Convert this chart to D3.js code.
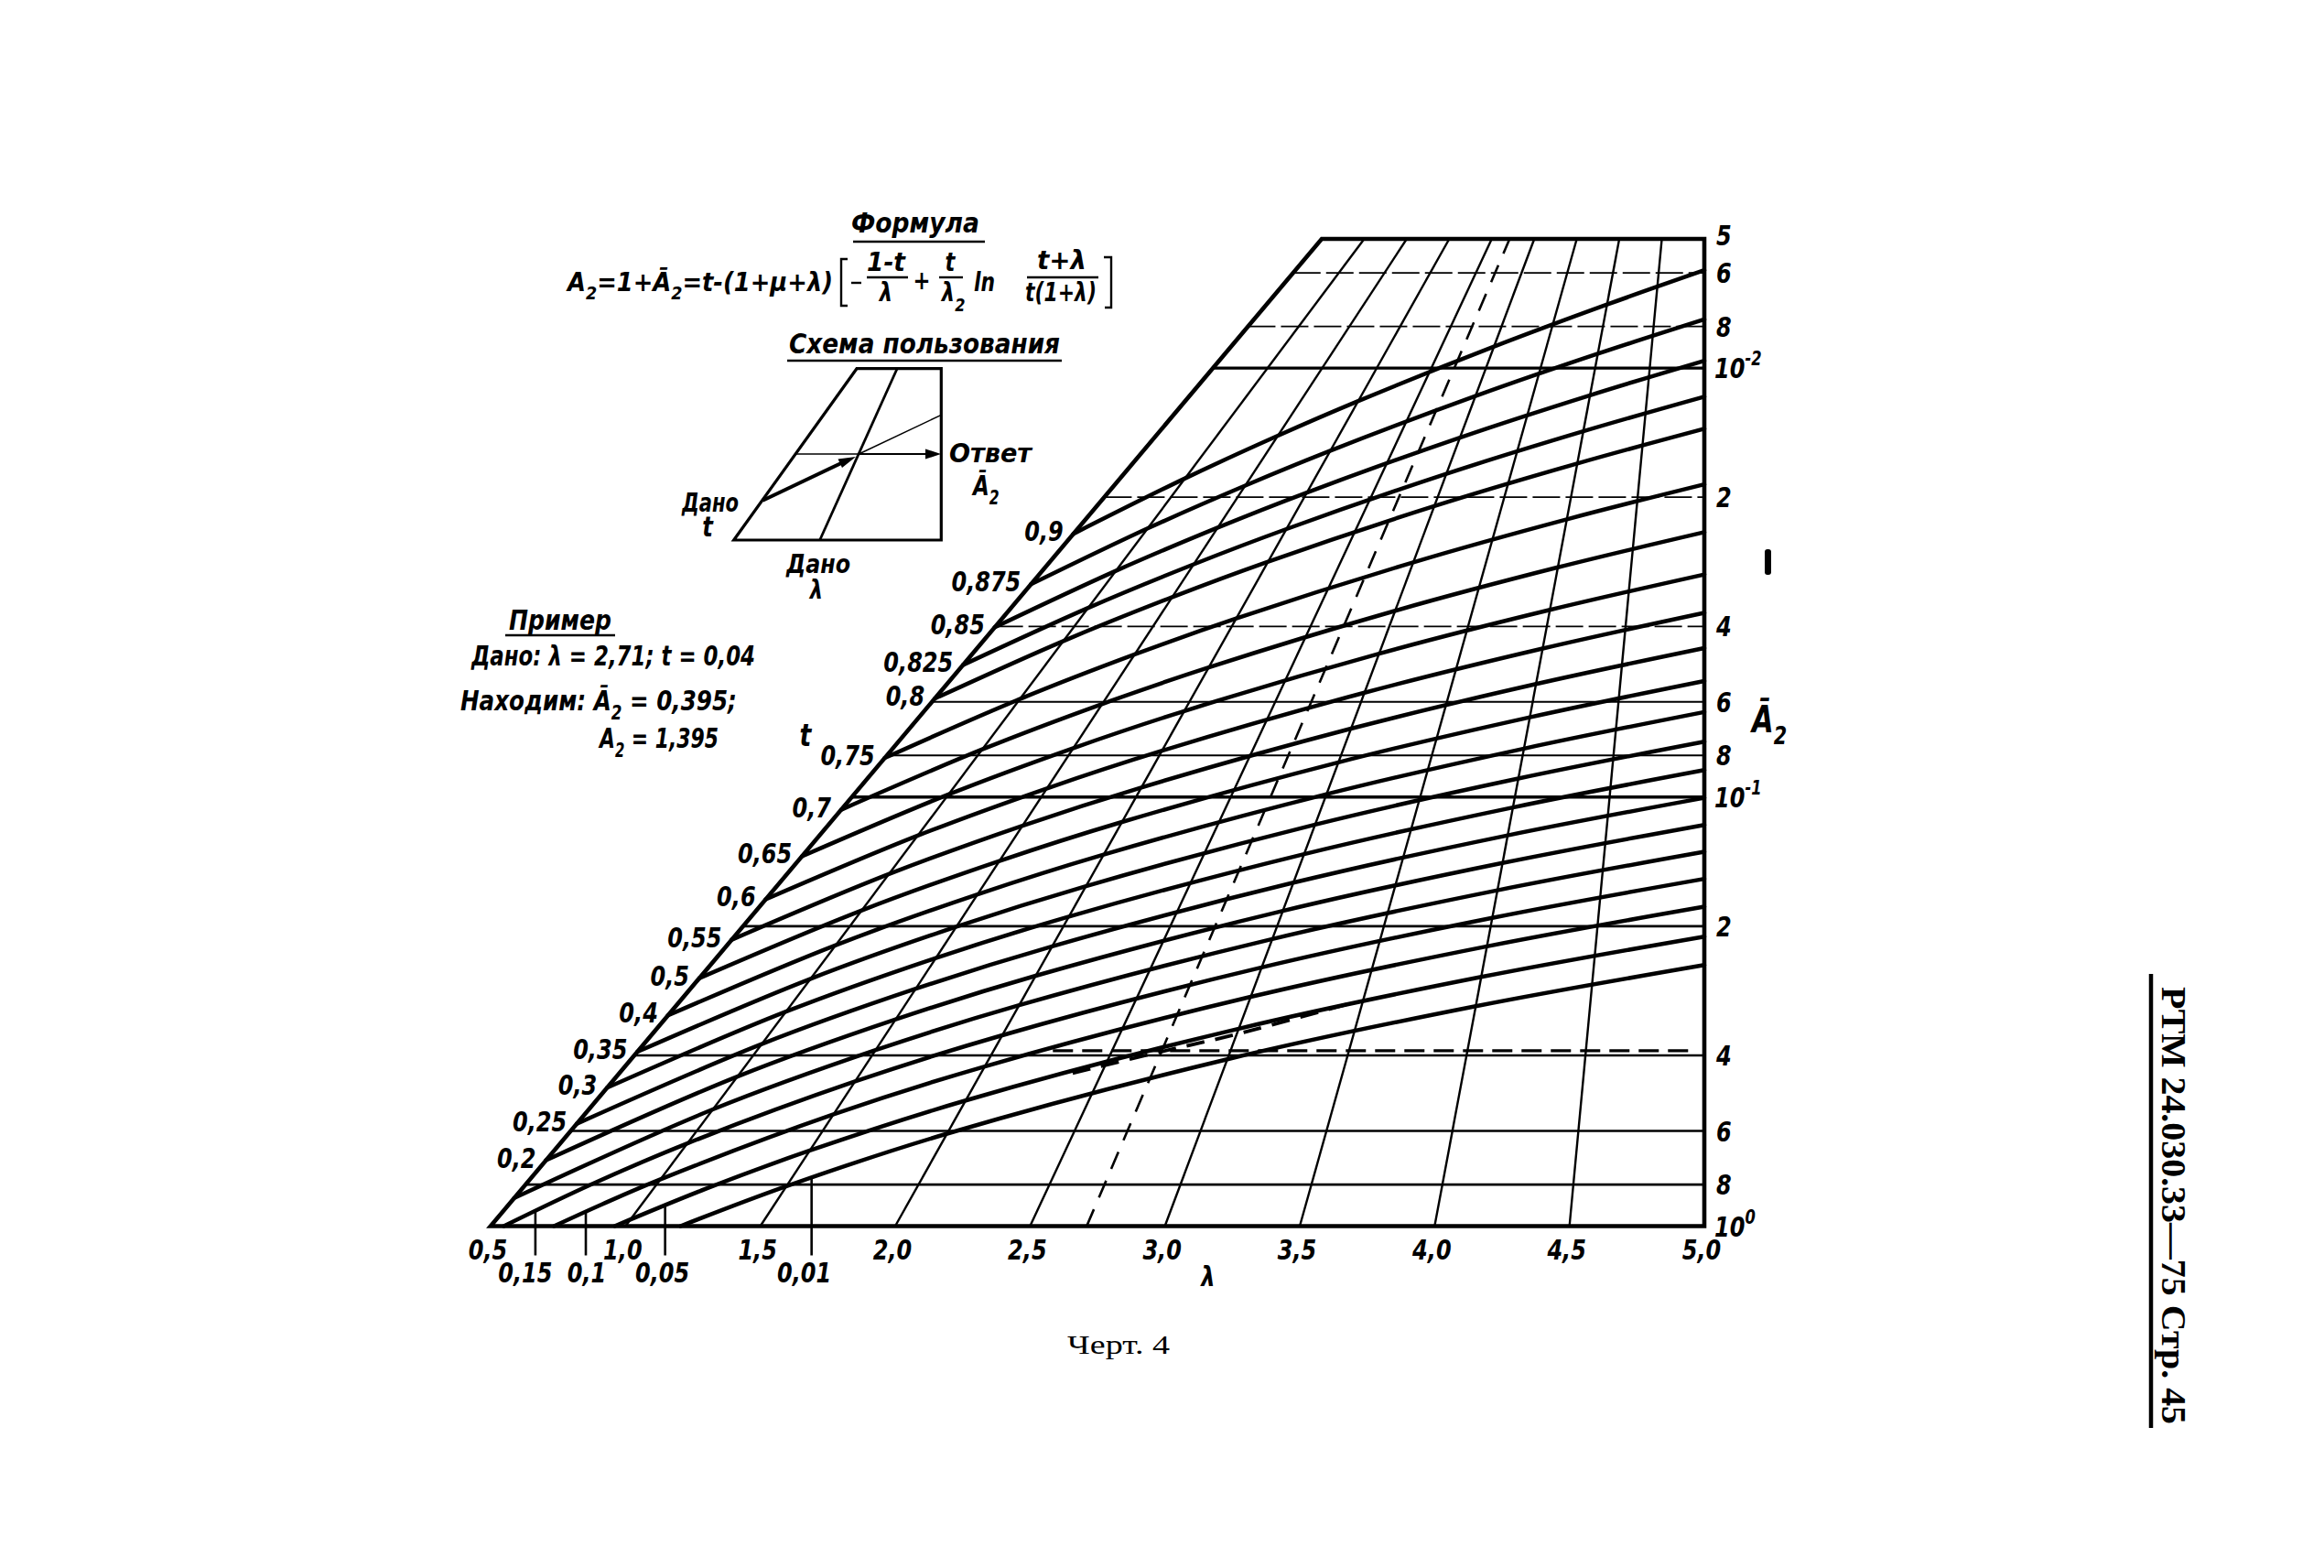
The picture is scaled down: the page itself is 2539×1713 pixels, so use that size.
<!DOCTYPE html>
<html><head><meta charset="utf-8">
<script src="https://cdn.jsdelivr.net/npm/d3@7"></script>
<style>html,body{margin:0;padding:0;background:#fff;} svg{display:block;}</style>
</head><body>
<svg id="chart" width="2539" height="1713"></svg>
<script>
// ================= DATA =================
const lambdaTickValues = [0.5, 1.0, 1.5, 2.0, 2.5, 3.0, 3.5, 4.0, 4.5, 5.0];
const lambdaTickLabels = ["0,5","1,0","1,5","2,0","2,5","3,0","3,5","4,0","4,5","5,0"];
const lambdaLineValues = [1.0, 1.5, 2.0, 2.5, 3.0, 3.5, 4.0, 4.5];

const a2TickValues    = [0.005, 0.006, 0.008, 0.01, 0.02, 0.04, 0.06, 0.08, 0.1, 0.2, 0.4, 0.6, 0.8, 1];
const a2TickLabels    = ["5","6","8","10","2","4","6","8","10","2","4","6","8","10"];
const a2TickExponents = ["","","","-2","","","","","-1","","","","","0"];
const a2GridValues    = [0.006, 0.008, 0.01, 0.02, 0.04, 0.06, 0.08, 0.1, 0.2, 0.4, 0.6, 0.8];

// t-curves starting on the left edge (lambda = 0.5), values of A2-bar at lambdaGrid
const lambdaGrid = [0.5, 1, 1.5, 2, 3, 4, 5];
const tUpper = [0.9, 0.875, 0.85, 0.825, 0.8, 0.75, 0.7, 0.65, 0.6, 0.55, 0.5, 0.45, 0.4, 0.35, 0.3, 0.25, 0.2];
const tUpperLabels = ["0,9","0,875","0,85","0,825","0,8","0,75","0,7","0,65","0,6","0,55","0,5","0,4","0,35","0,3","0,25","0,2",""];
const a2_t0900 = [0.02434, 0.01808, 0.01438, 0.01194, 0.008915, 0.007112, 0.005916];
const a2_t0875 = [0.03192, 0.02365, 0.01879, 0.01558, 0.01162, 0.00926, 0.0077];
const a2_t0850 = [0.04019, 0.02969, 0.02354, 0.0195, 0.01452, 0.01157, 0.009612];
const a2_t0825 = [0.04918, 0.03622, 0.02867, 0.02373, 0.01764, 0.01404, 0.01166];
const a2_t0800 = [0.05895, 0.04328, 0.03419, 0.02826, 0.02098, 0.01669, 0.01385];
const a2_t0750 = [0.08105, 0.05909, 0.0465, 0.03834, 0.02837, 0.02252, 0.01867];
const a2_t0700 = [0.107, 0.07741, 0.06065, 0.04987, 0.03679, 0.02914, 0.02413];
const a2_t0650 = [0.1374, 0.09858, 0.07688, 0.06302, 0.04632, 0.03662, 0.03028];
const a2_t0600 = [0.1731, 0.123, 0.09543, 0.07798, 0.0571, 0.04505, 0.0372];
const a2_t0550 = [0.215, 0.1512, 0.1166, 0.09498, 0.06926, 0.05451, 0.04495];
const a2_t0500 = [0.2643, 0.1837, 0.1409, 0.1143, 0.08298, 0.06515, 0.05363];
const a2_t0450 = [0.3227, 0.2214, 0.1686, 0.1362, 0.09846, 0.07709, 0.06335];
const a2_t0400 = [0.3923, 0.2652, 0.2005, 0.1613, 0.1159, 0.09053, 0.07426];
const a2_t0350 = [0.4758, 0.3163, 0.2372, 0.1899, 0.1358, 0.1057, 0.08652];
const a2_t0300 = [0.5772, 0.3765, 0.2798, 0.2228, 0.1583, 0.1228, 0.1004];
const a2_t0250 = [0.7023, 0.4481, 0.3297, 0.2609, 0.1842, 0.1424, 0.1161];
const a2_t0200 = [0.8599, 0.5346, 0.3887, 0.3056, 0.2142, 0.1649, 0.1341];
const upperSeries = [a2_t0900, a2_t0875, a2_t0850, a2_t0825, a2_t0800, a2_t0750, a2_t0700, a2_t0650, a2_t0600,
                     a2_t0550, a2_t0500, a2_t0450, a2_t0400, a2_t0350, a2_t0300, a2_t0250, a2_t0200];

// t-curves starting on the bottom edge (A2-bar = 1)
const tLower = [0.15, 0.1, 0.05, 0.01];
const tLowerLabels = ["0,15","0,1","0,05","0,01"];
const lam_t0150 = [0.549, 0.75, 1, 1.5, 2, 3, 4, 5];
const a2_t0150  = [1, 0.7998, 0.6414, 0.4601, 0.359, 0.2495, 0.1912, 0.1551];
const lam_t0100 = [0.735, 0.85, 1, 1.5, 2, 3, 4, 5];
const a2_t0100  = [1, 0.8896, 0.7779, 0.549, 0.4245, 0.2922, 0.2228, 0.1801];
const lam_t0050 = [0.96, 1.2, 1.5, 2, 3, 4, 5];
const a2_t0050  = [1, 0.8182, 0.6667, 0.5096, 0.3466, 0.2626, 0.2114];
const lam_t0010 = [1.204, 1.5, 2, 3, 4, 5];
const a2_t0010  = [1, 0.807, 0.6088, 0.4084, 0.3072, 0.2463];
const lowerLambdas = [lam_t0150, lam_t0100, lam_t0050, lam_t0010];
const lowerSeries  = [a2_t0150, a2_t0100, a2_t0050, a2_t0010];
const tLowerTickLambda = [0.666, 0.853, 1.147, 1.69];
const tLowerTickTopA2  = [0.922, 0.928, 0.895, 0.772];

// worked example
const exampleLambda = 2.71;
const exampleCurveLambda = [2.38, 2.71, 3.0, 3.47];
const exampleCurveA2     = [0.44, 0.392, 0.357, 0.30];
const exampleAnswerA2 = 0.39;
const exampleAnswerStartLambda = 2.25;

// ================= LAYOUT =================
const W = 2539, H = 1713;
const X_BL = 536, X_TL = 1444, X_R = 1862, Y_T = 261, Y_B = 1339.5;
const FONT = "'Liberation Sans Narrow','DejaVu Sans Condensed','DejaVu Sans',sans-serif";
const SERIF = "'Liberation Serif','DejaVu Serif',serif";
const SQUEEZE = 0.86;

const svg = d3.select('#chart');
svg.append('rect').attr('width', W).attr('height', H).attr('fill', '#fff');

const yScale = d3.scaleLog().domain([0.005, 1]).range([Y_T, Y_B]);
const xBot = d3.scaleLinear().domain([0.5, 5]).range([X_BL, X_R]);
const xTop = d3.scaleLinear().domain([0.5, 5]).range([X_TL, X_R]);
function proj(lam, a) {
  const y = yScale(a);
  const s = (Y_B - y) / (Y_B - Y_T);
  return [xBot(lam) + s * (xTop(lam) - xBot(lam)), y];
}
const curveLine = d3.line().curve(d3.curveCatmullRom.alpha(0.5));

const plot = svg.append('g').attr('fill', 'none').attr('stroke', '#000');

// horizontal A2 grid
a2GridValues.forEach(v => {
  const p0 = proj(0.5, v), p1 = proj(5, v);
  const lg = Math.log10(v);
  const decade = Math.abs(lg - Math.round(lg)) < 1e-9;
  const dashed = !decade && v < 0.05;
  const minor = !decade && !dashed && v < 0.1;
  plot.append('line')
    .attr('x1', p0[0]).attr('y1', p0[1]).attr('x2', p1[0]).attr('y2', p1[1])
    .attr('stroke-width', decade ? 3.4 : dashed ? 1.7 : minor ? 2.0 : 2.7)
    .attr('stroke-dasharray', dashed ? '30,6' : null);
});

// lambda lines
lambdaLineValues.forEach(l => {
  const p0 = proj(l, 1), p1 = proj(l, 0.005);
  plot.append('line').attr('x1', p0[0]).attr('y1', p0[1]).attr('x2', p1[0]).attr('y2', p1[1])
    .attr('stroke-width', 2.4);
});

// t curves
upperSeries.forEach(arr => {
  const pts = lambdaGrid.map((l, i) => proj(l, arr[i]));
  plot.append('path').attr('d', curveLine(pts)).attr('stroke-width', 4.5).attr('stroke-linecap', 'round');
});
lowerSeries.forEach((arr, k) => {
  const pts = lowerLambdas[k].map((l, i) => proj(l, arr[i]));
  plot.append('path').attr('d', curveLine(pts)).attr('stroke-width', 4.5).attr('stroke-linecap', 'round');
});

// frame
{
  const c = [proj(0.5, 1), proj(5, 1), proj(5, 0.005), proj(0.5, 0.005)];
  plot.append('path').attr('d', 'M' + c.map(p => p.join(',')).join('L') + 'Z')
    .attr('stroke-width', 4.6).attr('stroke-linejoin', 'miter');
}

// worked example (dashed)
{
  const p0 = proj(exampleLambda, 1), p1 = proj(exampleLambda, 0.005);
  plot.append('line').attr('x1', p0[0]).attr('y1', p0[1]).attr('x2', p1[0]).attr('y2', p1[1])
    .attr('stroke-width', 2.6).attr('stroke-dasharray', '20,14');
  const pts = exampleCurveLambda.map((l, i) => proj(l, exampleCurveA2[i]));
  plot.append('path').attr('d', curveLine(pts)).attr('stroke-width', 3.8).attr('stroke-dasharray', '20,12');
  const a0 = proj(exampleAnswerStartLambda, exampleAnswerA2);
  plot.append('line').attr('x1', a0[0]).attr('y1', a0[1]).attr('x2', X_R - 12).attr('y2', a0[1])
    .attr('stroke-width', 3.2).attr('stroke-dasharray', '22,10');
}

// bottom t ticks
tLowerTickLambda.forEach((l, i) => {
  const x = xBot(l);
  plot.append('line').attr('x1', x).attr('y1', yScale(tLowerTickTopA2[i])).attr('x2', x).attr('y2', Y_B + 32)
    .attr('stroke-width', 2.6);
});

// ================= TEXT =================
const txt = svg.append('g').attr('fill', '#000');
function squeeze(t, o) {
  if (o.len) { t.attr('textLength', o.len).attr('lengthAdjust', 'spacingAndGlyphs'); return; }
  const f = o.squeeze === undefined ? SQUEEZE : o.squeeze;
  if (f !== 1) {
    const w = t.node().getComputedTextLength();
    if (w > 0) t.attr('textLength', w * f).attr('lengthAdjust', 'spacingAndGlyphs');
  }
}
function label(x, y, s, o) {
  o = o || {};
  const t = txt.append('text').attr('x', x).attr('y', y)
    .attr('font-family', o.family || FONT).attr('font-size', o.size || 31)
    .attr('font-style', o.style || 'italic').attr('font-weight', o.weight || 'bold')
    .attr('text-anchor', o.anchor || 'start').text(s);
  squeeze(t, o);
  return t;
}
function rich(x, y, parts, o) {
  const size = o.size || 30;
  const t = txt.append('text').attr('x', x).attr('y', y)
    .attr('font-family', o.family || FONT).attr('font-size', size)
    .attr('font-style', o.style || 'italic').attr('font-weight', o.weight || 'bold')
    .attr('text-anchor', o.anchor || 'start');
  let shift = 0;
  parts.forEach(p => {
    const [s, kind] = typeof p === 'string' ? [p, 'n'] : p;
    const target = kind === 'sub' ? size * 0.32 : kind === 'sup' ? -size * 0.45 : 0;
    t.append('tspan').attr('dy', target - shift).attr('font-size', kind === 'n' ? size : size * 0.68).text(s);
    shift = target;
  });
  squeeze(t, o);
  return t;
}

// right axis labels
a2TickValues.forEach((v, i) => {
  const y = yScale(v) + 11 - (i === 0 ? 4 : 0);
  if (a2TickExponents[i]) {
    rich(X_R + 11, y, [a2TickLabels[i], [a2TickExponents[i], 'sup']], { size: 31 });
  } else {
    label(X_R + 13, y, a2TickLabels[i]);
  }
});
// right axis title and scan mark
rich(1914, 800, ['Ā', ['2', 'sub']], { size: 40, squeeze: 0.85 });
txt.append('rect').attr('x', 1928).attr('y', 600).attr('width', 7).attr('height', 28).attr('rx', 3);

// bottom lambda labels
lambdaTickValues.forEach((v, i) => label(xBot(v) - 3, 1376, lambdaTickLabels[i], { anchor: 'middle' }));
label(1320, 1405, 'λ', { anchor: 'middle', size: 30, squeeze: 0.9 });
// bottom t labels
const tLowerLabelShift = [-11, 1, -3, -8];
tLowerTickLambda.forEach((l, i) => label(xBot(l) + tLowerLabelShift[i], 1401, tLowerLabels[i], { anchor: 'middle' }));

// left-edge t labels
tUpper.forEach((t, i) => {
  if (!tUpperLabels[i]) return;
  const p = proj(0.5, upperSeries[i][0]);
  label(p[0] - 11, p[1] + 8, tUpperLabels[i], { anchor: 'end' });
});
label(880, 815, 't', { anchor: 'middle', size: 33, squeeze: 0.9 });

// ---- formula block ----
label(1000, 254, 'Формула', { anchor: 'middle', size: 31, len: 140 });
svg.append('line').attr('x1', 932).attr('x2', 1076).attr('y1', 264).attr('y2', 264).attr('stroke', '#000').attr('stroke-width', 2.6);
rich(620, 318, ['A', ['2', 'sub'], '=1+Ā', ['2', 'sub'], '=t-(1+μ+λ)'], { size: 28, len: 290 });
const fm = svg.append('g').attr('stroke', '#000').attr('fill', 'none').attr('stroke-width', 2.4);
fm.append('path').attr('d', 'M926,283 L919,283 L919,334 L926,334');
fm.append('line').attr('x1', 930).attr('x2', 941).attr('y1', 309).attr('y2', 309);
fm.append('line').attr('x1', 947).attr('x2', 992).attr('y1', 303).attr('y2', 303);
fm.append('line').attr('x1', 1026).attr('x2', 1052).attr('y1', 303).attr('y2', 303);
fm.append('line').attr('x1', 1122).attr('x2', 1200).attr('y1', 303).attr('y2', 303);
fm.append('path').attr('d', 'M1206,281 L1214,281 L1214,336 L1207,336');
label(968, 296, '1-t', { anchor: 'middle', size: 28, len: 42 });
label(968, 329, 'λ', { anchor: 'middle', size: 28, squeeze: 0.9 });
label(1007, 316, '+', { anchor: 'middle', size: 28, squeeze: 0.9 });
label(1038, 296, 't', { anchor: 'middle', size: 28, squeeze: 0.9 });
label(1036, 329, 'λ', { anchor: 'middle', size: 28, squeeze: 0.9 });
label(1049, 340, '2', { anchor: 'middle', size: 20, squeeze: 0.9 });
label(1064, 318, 'ln', { size: 28, len: 23 });
label(1160, 294, 't+λ', { anchor: 'middle', size: 28, len: 54 });
label(1159, 329, 't(1+λ)', { anchor: 'middle', size: 28, len: 78 });

// ---- usage scheme ----
label(862, 386, 'Схема  пользования', { size: 31, len: 296 });
svg.append('line').attr('x1', 860).attr('x2', 1160).attr('y1', 394).attr('y2', 394).attr('stroke', '#000').attr('stroke-width', 2.6);
const sc = svg.append('g').attr('stroke', '#000').attr('fill', 'none');
sc.append('path').attr('d', 'M936,402.7 L1028.3,402.7 L1028.3,590 L801.7,590 Z').attr('stroke-width', 3.2).attr('stroke-linejoin', 'miter');
sc.append('line').attr('x1', 980).attr('y1', 403).attr('x2', 895.7).attr('y2', 590).attr('stroke-width', 2.8);
sc.append('line').attr('x1', 869).attr('y1', 496).attr('x2', 938).attr('y2', 496).attr('stroke-width', 1.4);
sc.append('line').attr('x1', 938).attr('y1', 496).attr('x2', 1016).attr('y2', 496).attr('stroke-width', 2.2);
sc.append('line').attr('x1', 938.3).attr('y1', 496).attr('x2', 1028.3).attr('y2', 453.3).attr('stroke-width', 1.4);
sc.append('line').attr('x1', 833.3).attr('y1', 546.7).attr('x2', 920).attr('y2', 505.5).attr('stroke-width', 4);
sc.append('path').attr('d', 'M1028,496 L1011,490.5 L1011,501.5 Z').attr('fill', '#000').attr('stroke', 'none');
sc.append('path').attr('d', 'M935,499 L920,511 L915.5,501.5 Z').attr('fill', '#000').attr('stroke', 'none');
label(776, 559, 'Дано', { anchor: 'middle', size: 29, len: 62 });
label(773, 586, 't', { anchor: 'middle', size: 30, squeeze: 0.9 });
label(1037, 505, 'Ответ', { size: 29, len: 90 });
rich(1063, 541, ['Ā', ['2', 'sub']], { size: 30, squeeze: 0.85 });
label(894, 626, 'Дано', { anchor: 'middle', size: 29, len: 70 });
label(892, 654, 'λ', { anchor: 'middle', size: 28, squeeze: 0.9 });

// ---- example ----
label(612, 688, 'Пример', { anchor: 'middle', size: 31, len: 112 });
svg.append('line').attr('x1', 552).attr('x2', 672).attr('y1', 694).attr('y2', 694).attr('stroke', '#000').attr('stroke-width', 2.6);
label(515, 727, 'Дано: λ = 2,71;  t = 0,04', { size: 30, len: 310 });
rich(503, 776, ['Находим: Ā', ['2', 'sub'], ' = 0,395;'], { size: 30, len: 302 });
rich(655, 817, ['A', ['2', 'sub'], ' = 1,395'], { size: 30, len: 130 });

// ---- caption & page header ----
label(1222, 1479, 'Черт. 4', { anchor: 'middle', size: 29, family: SERIF, style: 'normal', weight: 'normal', len: 112 });
svg.append('line').attr('x1', 2350).attr('x2', 2350).attr('y1', 1064).attr('y2', 1560).attr('stroke', '#000').attr('stroke-width', 4.5);
txt.append('text').attr('transform', 'translate(2362,1078) rotate(90)')
  .attr('font-family', SERIF).attr('font-size', 38).attr('font-weight', 'bold')
  .attr('textLength', 478).attr('lengthAdjust', 'spacingAndGlyphs')
  .text('РТМ 24.030.33—75   Стр. 45');
</script>
</body></html>
